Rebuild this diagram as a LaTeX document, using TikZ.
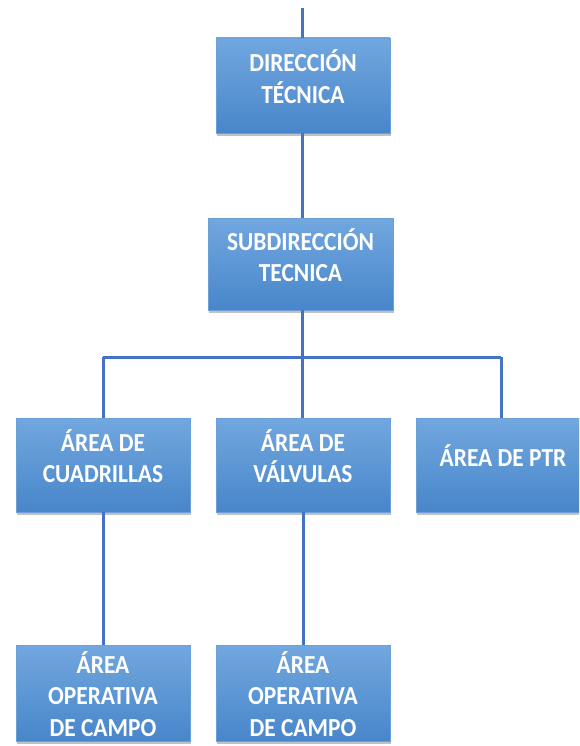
\documentclass[tikz,border=0pt]{standalone}
\usepackage{fontspec}
\setmainfont{Carlito}[FakeStretch=0.9]
\usetikzlibrary{shadows}
\definecolor{boxtop}{HTML}{72A7DF}
\definecolor{boxbot}{HTML}{4886CA}
\definecolor{boxedge}{HTML}{6A9FD8}
\definecolor{linkblue}{HTML}{4472C4}
\tikzset{
  unitbox/.style={rectangle, top color=boxtop, bottom color=boxbot, draw=boxedge, line width=0.6pt,
    minimum width=174pt, minimum height=94pt, inner sep=0pt,
    drop shadow={shadow xshift=1pt, shadow yshift=-3pt, opacity=0.35, fill=black!70}},
  unittext/.style={text=white, font=\bfseries\fontsize{26}{31.5}\selectfont, align=center, inner sep=0pt},
  link/.style={draw=linkblue, line width=3pt}
}
\begin{document}
\begin{tikzpicture}[x=1pt,y=-1pt]
\useasboundingbox (0,0) rectangle (579,746);
\clip (0,0) rectangle (579,746);
% free ends and junctions of the connectors
\coordinate (top) at (302,8);
\coordinate (bar) at (302,357);
\coordinate (barL) at (103,357);
\coordinate (barR) at (501,357);
% unit boxes
\node[unitbox, minimum height=95pt] (dir) at (303,85.5) {};
\node[unitbox, minimum width=185pt, minimum height=92pt] (sub) at (300.5,264) {};
\node[unitbox] (cuad) at (103,465) {};
\node[unitbox] (valv) at (303,465) {};
\node[unitbox] (ptr) at (503,465) {};
\node[unitbox, minimum height=96pt] (op1) at (103,693) {};
\node[unitbox, minimum height=96pt] (op2) at (303,693) {};
% box captions, set a little above centre
\node[unittext] (dirT) at ([yshift=9pt]dir.center) {DIRECCIÓN\\TÉCNICA};
\node[unittext] (subT) at ([yshift=9pt]sub.center) {SUBDIRECCIÓN\\TECNICA};
\node[unittext] (cuadT) at ([yshift=9pt]cuad.center) {ÁREA DE\\CUADRILLAS};
\node[unittext] (valvT) at ([yshift=9pt]valv.center) {ÁREA DE\\VÁLVULAS};
\node[unittext] (ptrT) at ([yshift=9pt]ptr.center) {ÁREA DE PTR};
\node[unittext] (op1T) at ([yshift=-1pt]op1.center) {ÁREA\\OPERATIVA\\DE CAMPO};
\node[unittext] (op2T) at ([yshift=-1pt]op2.center) {ÁREA\\OPERATIVA\\DE CAMPO};
% connectors
\draw[link] (top) -- (top |- dir.north);
\draw[link] (top |- dir.south) -- (top |- sub.north);
\draw[link] (top |- sub.south) -- (bar);
\draw[link] (barL) -- (barR);
\draw[link] (barL) -- (barL |- cuad.north);
\draw[link] (bar) -- (bar |- valv.north);
\draw[link] (barR) -- (barR |- ptr.north);
\draw[link] (cuad.south) -- (op1.north);
\draw[link] (valv.south) -- (op2.north);
\end{tikzpicture}
\end{document}
